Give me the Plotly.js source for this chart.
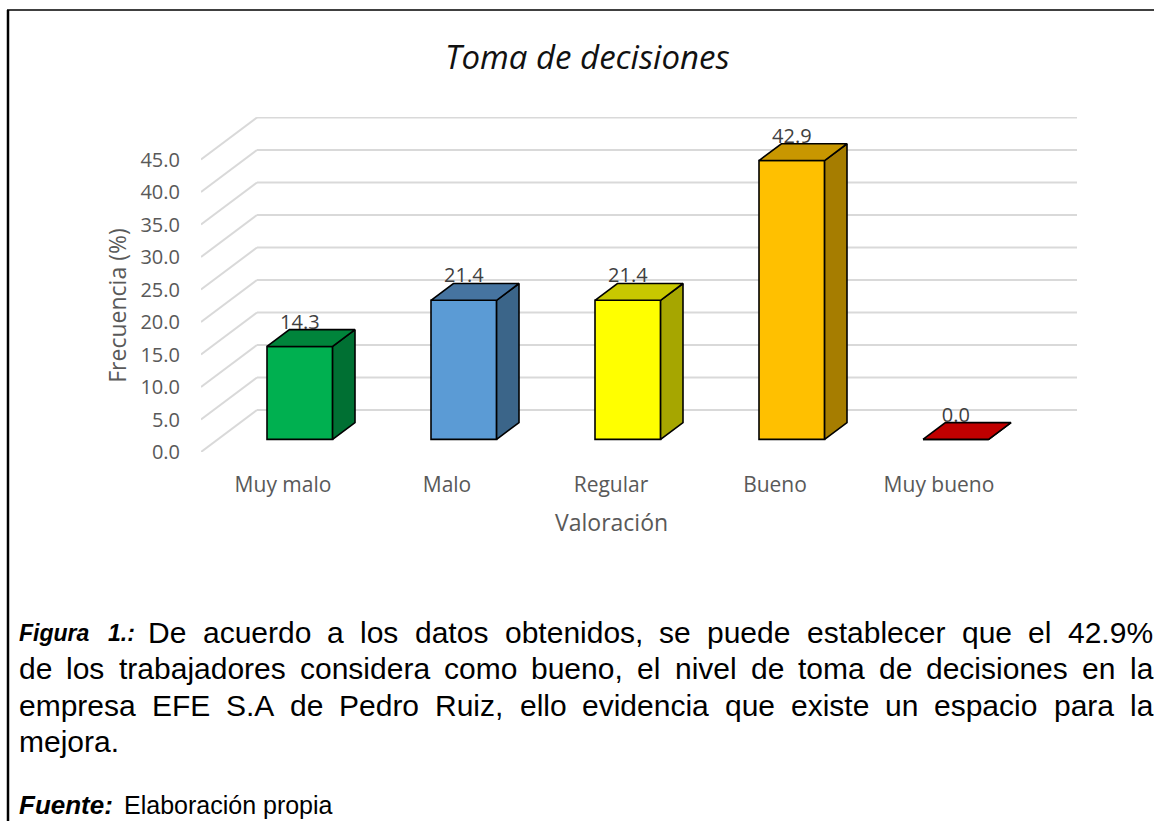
<!DOCTYPE html>
<html>
<head>
<meta charset="utf-8">
<script src="https://cdn.plot.ly/plotly-3.0.1.min.js"></script>
<style>
  body { margin: 0; background: #fff; }
  #myDiv { width: 1154px; height: 821px; }
</style>
</head>
<body>
<div id="myDiv"></div>
<script>
// data
var categories = ['Muy malo', 'Malo', 'Regular', 'Bueno', 'Muy bueno'];
var values = [14.3, 21.4, 21.4, 42.9, 0.0];
var yTicks = [0, 5, 10, 15, 20, 25, 30, 35, 40, 45];

var frontColors = ['#00B050', '#5B9BD5', '#FFFF00', '#FFC000', '#C00000'];
var topColors = ['#00843B', '#4674A0', '#C8C800', '#C89700', '#C00000'];
var sideColors = ['#007033', '#3B6589', '#A6A600', '#A67D00', '#900000'];

var captionLines = [
  'De acuerdo a los datos obtenidos, se puede establecer que el 42.9%',
  'de los trabajadores considera como bueno, el nivel de toma de decisiones en la',
  'empresa EFE S.A de Pedro Ruiz, ello evidencia que existe un espacio para la',
  'mejora.'
];

// geometry of the fake 3d view
var ML = 201, MT = 117, PW = 876, PH = 335;
var PX_CAT = 164, PX_VAL = 6.5;
var DX = 56 / PX_CAT, DY = 42 / PX_VAL;   // full depth shift
var D0 = 0.3, D1 = 0.7;                   // bar depth span
var C0 = 0.3, C1 = 0.7;                   // bar span inside a category

function px(x) { return (x - ML) / PW; }
function py(y) { return 1 - (y - MT) / PH; }

var data = [];

// front faces: a real bar trace, pushed back into the floor
data.push({
  type: 'bar',
  x: categories.map(function (c, i) { return i + 0.5 + D0 * DX; }),
  y: values,
  base: values.map(function () { return D0 * DY; }),
  width: C1 - C0,
  marker: { color: frontColors, line: { color: '#000', width: 1.6 } },
  hoverinfo: 'skip'
});

// side and top faces
values.forEach(function (v, i) {
  var c0 = i + C0, c1 = i + C1;
  data.push({
    type: 'scatter', mode: 'lines', fill: 'toself',
    x: [c1 + D0 * DX, c1 + D1 * DX, c1 + D1 * DX, c1 + D0 * DX, c1 + D0 * DX],
    y: [D0 * DY, D1 * DY, v + D1 * DY, v + D0 * DY, D0 * DY],
    fillcolor: sideColors[i],
    line: { color: '#000', width: 1.6 },
    hoverinfo: 'skip'
  });
  data.push({
    type: 'scatter', mode: 'lines', fill: 'toself',
    x: [c0 + D0 * DX, c1 + D0 * DX, c1 + D1 * DX, c0 + D1 * DX, c0 + D0 * DX],
    y: [v + D0 * DY, v + D0 * DY, v + D1 * DY, v + D1 * DY, v + D0 * DY],
    fillcolor: topColors[i],
    line: { color: '#000', width: 1.6 },
    hoverinfo: 'skip'
  });
});

// value labels
data.push({
  type: 'scatter', mode: 'text',
  x: categories.map(function (c, i) { return i + 0.5 + D0 * DX; }),
  y: values.map(function (v) { return v + D1 * DY - 0.6; }),
  text: values.map(function (v) { return v.toFixed(1); }),
  textposition: 'top center',
  textfont: { family: 'Open Sans', size: 20, color: '#404040' },
  hoverinfo: 'skip'
});

// gridlines: side wall diagonals + back wall
var shapes = [];
yTicks.forEach(function (t) {
  shapes.push({ type: 'line', layer: 'below', xref: 'x', yref: 'y',
    x0: 0, y0: t, x1: DX, y1: t + DY, line: { color: '#d9d9d9', width: 2 } });
  shapes.push({ type: 'line', layer: 'below', xref: 'x', yref: 'y',
    x0: DX, y0: t + DY, x1: categories.length + DX, y1: t + DY, line: { color: '#d9d9d9', width: 2 } });
});

// frame of the figure
shapes.push({ type: 'line', xref: 'paper', yref: 'paper',
  x0: px(8), y0: py(10), x1: px(8), y1: py(821), line: { color: '#000', width: 2.5 } });
shapes.push({ type: 'line', xref: 'paper', yref: 'paper',
  x0: px(7), y0: py(10), x1: px(1154), y1: py(10), line: { color: '#000', width: 1.5 } });

var annotations = [];

annotations.push({
  xref: 'paper', yref: 'paper', x: px(587), y: py(57),
  text: '<i>Toma de decisiones</i>', showarrow: false,
  xanchor: 'center', yanchor: 'middle',
  font: { family: 'Open Sans', size: 33, color: '#111' }
});
annotations.push({
  xref: 'paper', yref: 'y', x: px(117), y: 22.5,
  text: 'Frecuencia (%)', textangle: -90, showarrow: false,
  xanchor: 'center', yanchor: 'middle',
  font: { family: 'Open Sans', size: 23, color: '#595959' }
});
annotations.push({
  xref: 'x', yref: 'paper', x: categories.length / 2, y: py(522),
  text: 'Valoración', showarrow: false,
  xanchor: 'center', yanchor: 'middle',
  font: { family: 'Open Sans', size: 23, color: '#595959' }
});

// caption, justified by hand
var ctx = document.createElement('canvas').getContext('2d');
function measure(txt, size) {
  ctx.font = size + "px 'Liberation Sans'";
  return ctx.measureText(txt).width;
}
function word(txt, x, y, size) {
  annotations.push({
    xref: 'paper', yref: 'paper', x: px(x), y: py(y),
    xanchor: 'left', yanchor: 'middle', showarrow: false, borderpad: 0,
    text: txt, font: { family: 'Liberation Sans, Arial', size: size, color: '#000' }
  });
}
function justify(line, left, right, y, size) {
  var words = line.split(' ');
  var widths = words.map(function (w) { return measure(w, size); });
  var total = widths.reduce(function (a, b) { return a + b; }, 0);
  var gap = (right - left - total) / (words.length - 1);
  var x = left;
  words.forEach(function (w, k) {
    word(w, x, y, size);
    x += widths[k] + gap;
  });
}

word('<b><i>Figura</i></b>', 18, 633, 23);
word('<b><i>1.:</i></b>', 107, 633, 23);
justify(captionLines[0], 147, 1152, 632, 30);
justify(captionLines[1], 18, 1152, 668, 30);
justify(captionLines[2], 18, 1152, 705, 30);
word(captionLines[3], 18, 741, 30);
word('<b><i>Fuente:</i></b>', 18, 805, 26);
word('Elaboración propia', 123, 805, 25);

var layout = {
  width: 1154, height: 821,
  margin: { l: ML, r: 1154 - ML - PW, t: MT, b: 821 - MT - PH, pad: 0 },
  paper_bgcolor: '#fff', plot_bgcolor: 'rgba(0,0,0,0)',
  showlegend: false,
  bargap: 0,
  xaxis: {
    range: [0, PW / PX_CAT], showgrid: false, zeroline: false, showline: false,
    tickvals: categories.map(function (c, i) { return i + 0.5; }),
    ticktext: categories, ticks: '', ticklabelstandoff: 18,
    tickfont: { family: 'Open Sans', size: 21, color: '#595959' }
  },
  yaxis: {
    range: [0, PH / PX_VAL], showgrid: false, zeroline: false, showline: false,
    tickvals: yTicks, tickformat: '.1f', ticks: '', ticklabelstandoff: 20,
    tickfont: { family: 'Open Sans', size: 20, color: '#595959' }
  },
  shapes: shapes,
  annotations: annotations
};

Plotly.newPlot('myDiv', data, layout, { staticPlot: true });
</script>
</body>
</html>
